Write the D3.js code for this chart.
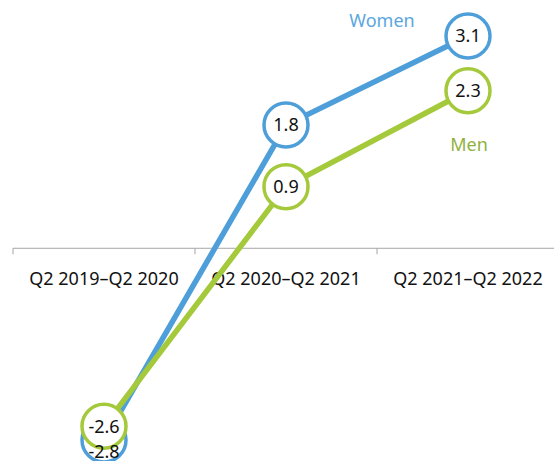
<!DOCTYPE html>
<html>
<head>
<meta charset="utf-8">
<script src="https://cdn.jsdelivr.net/npm/d3@7"></script>
<style>
  body { margin: 0; background: #fff; }
  text { font-family: "Noto Sans", sans-serif; }
</style>
</head>
<body>
<div id="chart"></div>
<script>
(function () {
  const periods = ["Q2 2019\u2013Q2 2020", "Q2 2020\u2013Q2 2021", "Q2 2021\u2013Q2 2022"];
  const women = [-2.8, 1.8, 3.1];
  const men = [-2.6, 0.9, 2.3];

  const width = 554;
  const height = 461;

  const blue = "#4e9fd9";
  const green = "#a4c93b";

  const svg = d3.select("#chart")
    .append("svg")
    .attr("width", width)
    .attr("height", height);

  const xPositionScale = d3.scaleBand().domain(periods).range([13, 559]);
  const yPositionScale = d3.scaleLinear().domain([-2.8, 3.1]).range([440, 36]);

  const cx = d => xPositionScale(d) + xPositionScale.bandwidth() / 2;

  // axis at zero, ticks at the band edges
  const y0 = yPositionScale(0);
  svg.append("line")
    .attr("x1", xPositionScale.range()[0]).attr("x2", width)
    .attr("y1", y0).attr("y2", y0)
    .attr("stroke", "#a6a6a6").attr("stroke-width", 1);

  const edges = periods.map(d => xPositionScale(d));
  svg.selectAll(".tick")
    .data(edges)
    .enter().append("line")
    .attr("x1", d => d).attr("x2", d => d)
    .attr("y1", y0).attr("y2", y0 + 6)
    .attr("stroke", "#a6a6a6");

  svg.selectAll(".cat")
    .data(periods)
    .enter().append("text")
    .attr("x", d => cx(d))
    .attr("y", 285)
    .attr("text-anchor", "middle")
    .attr("font-size", "18px")
    .attr("fill", "#111")
    .text(d => d);

  const series = [
    { name: "Women", values: women, color: blue },
    { name: "Men", values: men, color: green }
  ];

  const line = d3.line()
    .x((d, i) => cx(periods[i]))
    .y(d => yPositionScale(d));

  series.forEach(s => {
    svg.append("path")
      .datum(s.values)
      .attr("d", line)
      .attr("fill", "none")
      .attr("stroke", s.color)
      .attr("stroke-width", 5.5);
  });

  series.forEach(s => {
    svg.selectAll(".dot-" + s.name)
      .data(s.values)
      .enter().append("circle")
      .attr("cx", (d, i) => cx(periods[i]))
      .attr("cy", d => yPositionScale(d))
      .attr("r", 22)
      .attr("fill", "white")
      .attr("stroke", s.color)
      .attr("stroke-width", 3.5);
  });

  // the -2.8 label gets pushed down so it doesn't sit under -2.6
  const nudge = { "Women-0": 12 };

  series.forEach(s => {
    svg.selectAll(".val-" + s.name)
      .data(s.values)
      .enter().append("text")
      .attr("x", (d, i) => cx(periods[i]))
      .attr("y", (d, i) => yPositionScale(d) + (nudge[s.name + "-" + i] || 0))
      .attr("dy", "0.36em")
      .attr("text-anchor", "middle")
      .attr("font-size", "18px")
      .attr("fill", "#111")
      .text(d => d.toFixed(1));
  });

  svg.append("text")
    .attr("x", 382).attr("y", 27)
    .attr("text-anchor", "middle")
    .attr("font-size", "18px")
    .attr("fill", "#5ba6de")
    .text("Women");

  svg.append("text")
    .attr("x", 469).attr("y", 151)
    .attr("text-anchor", "middle")
    .attr("font-size", "18px")
    .attr("fill", "#8fb23f")
    .text("Men");
})();
</script>
</body>
</html>
